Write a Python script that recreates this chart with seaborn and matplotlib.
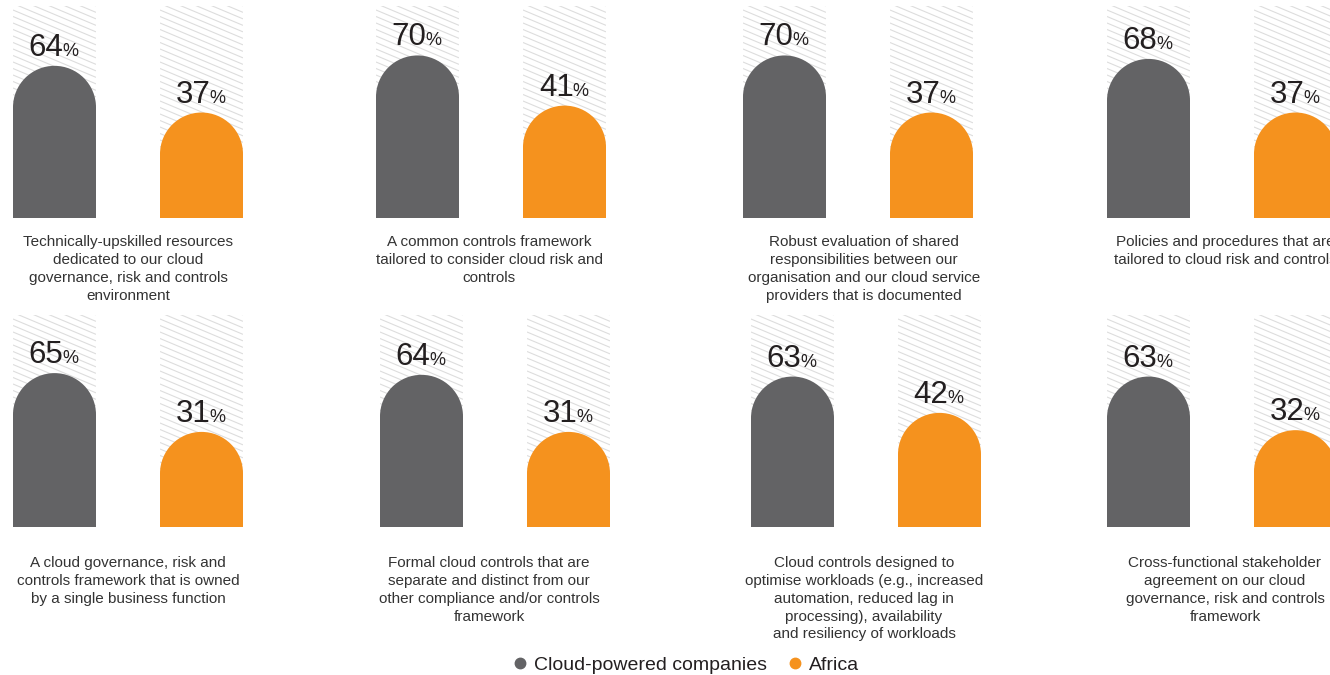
import matplotlib
matplotlib.use("Agg")
import numpy as np
import pandas as pd
import matplotlib.pyplot as plt
import seaborn as sns
from matplotlib.patches import Ellipse, Rectangle
from matplotlib.collections import LineCollection
from matplotlib.lines import Line2D

# ---- data -------------------------------------------------------------
series = ["Cloud-powered companies", "Africa"]
captions = [
    "Technically-upskilled resources\ndedicated to our cloud\ngovernance, risk and controls\nenvironment",
    "A common controls framework\ntailored to consider cloud risk and\ncontrols",
    "Robust evaluation of shared\nresponsibilities between our\norganisation and our cloud service\nproviders that is documented",
    "Policies and procedures that are\ntailored to cloud risk and controls",
    "A cloud governance, risk and\ncontrols framework that is owned\nby a single business function",
    "Formal cloud controls that are\nseparate and distinct from our\nother compliance and/or controls\nframework",
    "Cloud controls designed to\noptimise workloads (e.g., increased\nautomation, reduced lag in\nprocessing), availability\nand resiliency of workloads",
    "Cross-functional stakeholder\nagreement on our cloud\ngovernance, risk and controls\nframework",
]
cloud_powered = [64, 70, 70, 68, 65, 64, 63, 63]
africa = [37, 41, 37, 37, 31, 31, 42, 32]

# ---- style ------------------------------------------------------------
GREY = "#636365"
ORANGE = "#F5921E"
HATCH = "#dddddd"
INK = "#231F20"
TEXT = "#333333"

sns.set_theme(style="white")
plt.rcParams["font.family"] = ["Liberation Sans", "DejaVu Sans"]

W, H, DPI = 1330, 675, 100
fig = plt.figure(figsize=(W / DPI, H / DPI), dpi=DPI)
fig.patch.set_facecolor("white")

# panel geometry in pixels
panel_left = [[13, 376, 743, 1107], [13, 380, 751, 1107]]
panel_top = [6, 315]
PANEL_W, PANEL_H = 230, 212
BAR_FRAC = 83 / 147          # bar width relative to bar spacing
YMAX = 122.6                 # value range covered by the striped column
caption_x = [128, 489, 864, 1225]
caption_top = [235, 556]
STRIPE_GAP = 6.5             # vertical spacing of stripes, px
STRIPE_SLOPE = 0.42          # drop per px, stripes run down to the right

for i in range(8):
    r, c = divmod(i, 4)
    left, top = panel_left[r][c], panel_top[r]
    ax = fig.add_axes([left / W, 1 - (top + PANEL_H) / H, PANEL_W / W, PANEL_H / H])

    df = pd.DataFrame({"series": series, "value": [cloud_powered[i], africa[i]]})
    sns.barplot(data=df, x="series", y="value", hue="series",
                palette=[GREY, ORANGE], width=BAR_FRAC, saturation=1,
                legend=False, ax=ax, linewidth=0, zorder=3)

    ax.set_xlim(-BAR_FRAC / 2, 1 + BAR_FRAC / 2)
    ax.set_ylim(0, YMAX)
    ax.axis("off")

    px_x = PANEL_W / (1 + BAR_FRAC)   # pixels per x unit
    px_y = PANEL_H / YMAX             # pixels per y unit

    for p in list(ax.patches):
        x0, w, h = p.get_x(), p.get_width(), p.get_height()
        col = p.get_facecolor()
        cx = x0 + w / 2

        # striped background column
        rect = Rectangle((x0, 0), w, YMAX, facecolor="none", lw=0, zorder=1)
        ax.add_patch(rect)
        dy = STRIPE_GAP / px_y
        drop = STRIPE_SLOPE * w * px_x / px_y
        starts = np.arange(0, YMAX + drop + dy, dy)
        segs = [[(x0, s), (x0 + w, s - drop)] for s in starts]
        lc = LineCollection(segs, colors=HATCH, linewidths=0.8, zorder=2)
        ax.add_collection(lc)
        lc.set_clip_path(rect)

        # rounded cap on top of the bar
        cap_h = w * px_x / px_y
        ax.add_patch(Ellipse((cx, h), w, cap_h, facecolor=col, lw=0, zorder=3))

        # value label: big number + small percent sign
        top_val = h + cap_h / 2
        ax.annotate(f"{h:.0f}", xy=(cx, top_val), xytext=(9, 10),
                    textcoords="offset pixels", ha="right", va="baseline",
                    fontsize=22.5, color=INK, annotation_clip=False, zorder=5)
        ax.annotate("%", xy=(cx, top_val), xytext=(8, 10),
                    textcoords="offset pixels", ha="left", va="baseline",
                    fontsize=13, color=INK, annotation_clip=False, zorder=5)

    fig.text(caption_x[c] / W, 1 - caption_top[r] / H, captions[i],
             ha="center", va="top", fontsize=11, color=TEXT,
             linespacing=1.35, multialignment="center")

handles = [Line2D([], [], marker="o", ls="", color=GREY, markersize=7.5),
           Line2D([], [], marker="o", ls="", color=ORANGE, markersize=7.5)]
fig.legend(handles, series, loc="center", bbox_to_anchor=(685 / W, 1 - 665 / H),
           ncol=2, frameon=False, fontsize=14, handletextpad=0.25,
           columnspacing=1.0, handlelength=0.9, labelcolor=INK)

fig.savefig("out.png", dpi=DPI, facecolor="white")
